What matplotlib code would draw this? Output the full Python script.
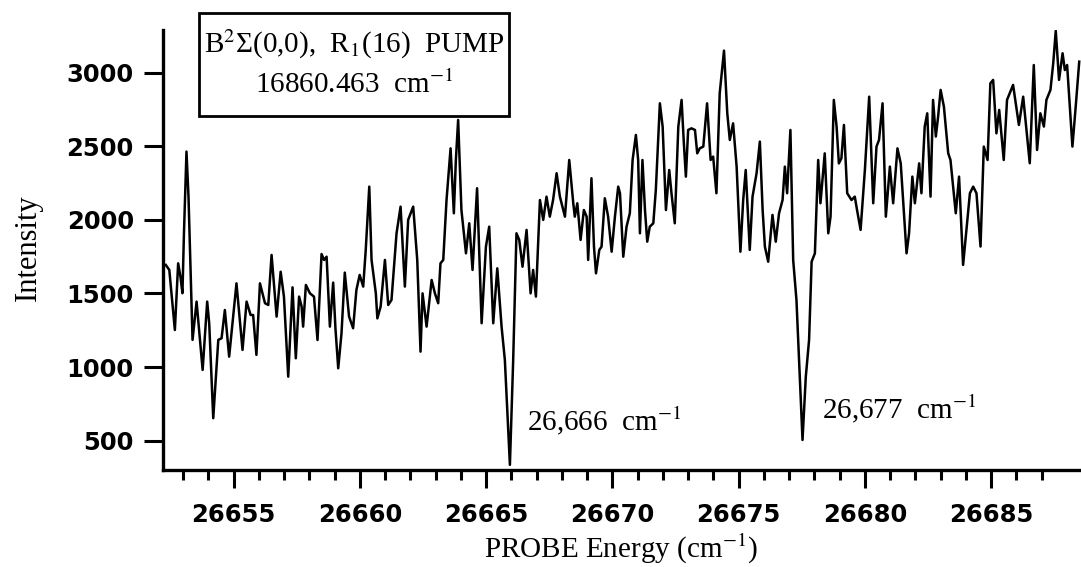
"""
Probe spectrum recorded with the B2Sigma(0,0) R1(16) pump line fixed.
Draws intensity vs probe energy with the two depletion dips labelled.
"""

import matplotlib
matplotlib.use('Agg')
import matplotlib.pyplot as plt
from matplotlib.patches import Rectangle


energy = [
    26652.31, 26652.45, 26652.67, 26652.80, 26652.89, 26652.97, 26653.03, 26653.13,
    26653.21, 26653.37, 26653.53, 26653.77, 26653.95, 26654.03, 26654.19, 26654.39,
    26654.52, 26654.65, 26654.82, 26655.11, 26655.35, 26655.51, 26655.67, 26655.77,
    26655.90, 26656.04, 26656.24, 26656.37, 26656.50, 26656.70, 26656.86, 26656.99,
    26657.16, 26657.33, 26657.46, 26657.59, 26657.69, 26657.75, 26657.86, 26658.02,
    26658.18, 26658.32, 26658.48, 26658.58, 26658.68, 26658.81, 26658.94, 26659.03,
    26659.14, 26659.27, 26659.40, 26659.57, 26659.73, 26659.86, 26659.99, 26660.13,
    26660.23, 26660.37, 26660.46, 26660.63, 26660.69, 26660.82, 26660.99, 26661.12,
    26661.25, 26661.45, 26661.61, 26661.78, 26661.91, 26662.11, 26662.27, 26662.40,
    26662.48, 26662.64, 26662.84, 26662.97, 26663.10, 26663.19, 26663.30, 26663.43,
    26663.59, 26663.72, 26663.80, 26663.89, 26664.02, 26664.20, 26664.33, 26664.46,
    26664.64, 26664.82, 26664.99, 26665.12, 26665.28, 26665.44, 26665.61, 26665.74,
    26665.94, 26666.07, 26666.20, 26666.31, 26666.44, 26666.60, 26666.76, 26666.86,
    26666.97, 26667.13, 26667.26, 26667.39, 26667.52, 26667.65, 26667.79, 26667.92,
    26668.12, 26668.29, 26668.45, 26668.51, 26668.61, 26668.74, 26668.87, 26668.98,
    26669.04, 26669.17, 26669.27, 26669.35, 26669.48, 26669.57, 26669.70, 26669.83,
    26669.97, 26670.10, 26670.23, 26670.30, 26670.43, 26670.56, 26670.69, 26670.80,
    26670.93, 26671.02, 26671.09, 26671.19, 26671.29, 26671.38, 26671.48, 26671.62,
    26671.72, 26671.88, 26671.99, 26672.12, 26672.25, 26672.34, 26672.47, 26672.61,
    26672.74, 26672.83, 26672.91, 26673.00, 26673.13, 26673.27, 26673.36, 26673.46,
    26673.60, 26673.75, 26673.89, 26673.99, 26674.12, 26674.25, 26674.42, 26674.55,
    26674.65, 26674.78, 26674.92, 26675.07, 26675.18, 26675.28, 26675.44, 26675.55,
    26675.71, 26675.84, 26675.95, 26676.04, 26676.17, 26676.34, 26676.47, 26676.60,
    26676.74, 26676.83, 26676.92, 26677.05, 26677.16, 26677.29, 26677.42, 26677.53,
    26677.66, 26677.79, 26677.89, 26678.02, 26678.15, 26678.24, 26678.41, 26678.55,
    26678.64, 26678.77, 26678.88, 26678.97, 26679.07, 26679.17, 26679.30, 26679.47,
    26679.60, 26679.69, 26679.83, 26680.00, 26680.17, 26680.33, 26680.46, 26680.56,
    26680.70, 26680.83, 26680.99, 26681.12, 26681.29, 26681.42, 26681.54, 26681.65,
    26681.75, 26681.88, 26681.98, 26682.15, 26682.24, 26682.37, 26682.47, 26682.60,
    26682.70, 26682.81, 26682.90, 26683.00, 26683.13, 26683.30, 26683.39, 26683.60,
    26683.73, 26683.89, 26684.16, 26684.29, 26684.42, 26684.58, 26684.71, 26684.86,
    26684.97, 26685.08, 26685.21, 26685.32, 26685.50, 26685.63, 26685.87, 26686.10,
    26686.27, 26686.53, 26686.69, 26686.82, 26686.95, 26687.09, 26687.19, 26687.35,
    26687.46, 26687.56, 26687.69, 26687.83, 26687.92, 26688.01, 26688.22, 26688.35,
    26688.49,
]

intensity = [
    1694, 1660, 1252, 1705, 1615, 1502, 1909, 2464,
    2158, 1185, 1445, 981, 1445, 1298, 653, 1185,
    1196, 1388, 1071, 1569, 1117, 1445, 1354, 1354,
    1083, 1569, 1434, 1422, 1762, 1343, 1648, 1479,
    935, 1542, 1060, 1479, 1411, 1275, 1558, 1501,
    1479, 1184, 1768, 1728, 1750, 1275, 1574, 1264,
    992, 1230, 1642, 1343, 1264, 1524, 1626, 1547,
    1796, 2226, 1728, 1501, 1331, 1411, 1728, 1422,
    1456, 1909, 2090, 1547, 2000, 2090, 1728, 1105,
    1501, 1275, 1592, 1501, 1434, 1705, 1728, 2135,
    2486, 2045, 2407, 2679, 2067, 1773, 1977, 1660,
    2215, 1298, 1818, 1954, 1298, 1671, 1275, 1049,
    336, 1049, 1909, 1864, 1682, 1932, 1501, 1660,
    1479, 2135, 2000, 2158, 2022, 2135, 2317, 2158,
    2022, 2407, 2113, 2022, 2113, 1864, 2067, 2022,
    1728, 2283, 1818, 1637, 1796, 1818, 2147, 2022,
    1784, 2022, 2226, 2181, 1750, 1954, 2045, 2407,
    2577, 2407, 1909, 2407, 2067, 1852, 1954, 1977,
    2203, 2792, 2633, 2067, 2339, 2181, 1977, 2633,
    2815, 2520, 2294, 2611, 2622, 2611, 2452, 2486,
    2498, 2792, 2407, 2430, 2181, 2860, 3150, 2724,
    2543, 2656, 2362, 1784, 2135, 2339, 1796, 2158,
    2317, 2532, 2067, 1818, 1716, 2034, 1852, 2045,
    2135, 2362, 2181, 2611, 1728, 1456, 935, 505,
    935, 1185, 1716, 1773, 2407, 2113, 2452, 1909,
    2022, 2815, 2633, 2384, 2418, 2645, 2181, 2135,
    2158, 2067, 1932, 2339, 2837, 2113, 2498, 2543,
    2792, 2022, 2362, 2113, 2486, 2384, 2067, 1773,
    1909, 2294, 2113, 2384, 2181, 2634, 2724, 2158,
    2815, 2566, 2701, 2883, 2769, 2453, 2407, 2045,
    2294, 1694, 2181, 2226, 2181, 1819, 2498, 2407,
    2928, 2951, 2588, 2747, 2407, 2815, 2917, 2645,
    2837, 2385, 3052, 2475, 2724, 2634, 2815, 2883,
    3064, 3285, 2951, 3132, 3018, 3052, 2498, 2769,
    3075,
]

x_ticks = [26655, 26660, 26665, 26670, 26675, 26680, 26685]
y_ticks = [500, 1000, 1500, 2000, 2500, 3000]

dip_labels = ['26,666  cm$^{-1}$', '26,677  cm$^{-1}$']
dip_label_pos = [(26666.6, 573), (26678.3, 654)]

pump_lines = ['B$^2$\u03a3(0,0),  R$_1$(16)  PUMP', '16860.463  cm$^{-1}$']

SERIF = 'Liberation Serif'


def plot_spectrum():
    plt.rcParams['mathtext.fontset'] = 'stix'
    fig = plt.figure(figsize=(10.81, 5.67), dpi=100)
    ax = fig.add_axes([163 / 1081, 97 / 567, 918 / 1081, 440 / 567])

    ax.plot(energy, intensity, color='black', linewidth=1.8, solid_joinstyle='round')

    ax.set_xlim(26652.2, 26688.56)
    ax.set_ylim(301, 3290)
    ax.set_xticks(x_ticks)
    ax.set_xticks(range(26653, 26688), minor=True)
    ax.set_yticks(y_ticks)

    for side in ['top', 'right']:
        ax.spines[side].set_visible(False)
    for side in ['left', 'bottom']:
        ax.spines[side].set_linewidth(2.4)

    ax.tick_params(axis='x', which='major', direction='out', length=13, width=2.2, pad=11)
    ax.tick_params(axis='x', which='minor', direction='out', length=7, width=2.2)
    ax.tick_params(axis='y', which='major', direction='out', length=14, width=2.2, pad=7)
    for lbl in ax.get_xticklabels() + ax.get_yticklabels():
        lbl.set_fontfamily('DejaVu Sans')
        lbl.set_fontweight('bold')
        lbl.set_fontsize(17.5)

    # axis titles, placed where the reference has them
    fig.text(621 / 1081, 1 - 558 / 567, 'PROBE Energy (cm$^{-1}$)', family=SERIF,
             fontsize=21, ha='center', va='baseline')
    fig.text(28 / 1081, 1 - 248 / 567, 'Intensity', family=SERIF, fontsize=22,
             rotation=90, ha='center', va='center')

    for txt, (xd, yd) in zip(dip_labels, dip_label_pos):
        ax.text(xd, yd, txt, family=SERIF, fontsize=21, ha='left', va='baseline')

    # pump line box
    box = Rectangle((199 / 1081, 1 - 116 / 567), 310 / 1081, 103 / 567,
                    transform=fig.transFigure, fill=False, edgecolor='black', linewidth=2)
    fig.patches.append(box)
    fig.text(354 / 1081, 1 - 53 / 567, pump_lines[0], family=SERIF, fontsize=21,
             ha='center', va='baseline')
    fig.text(354 / 1081, 1 - 93 / 567, pump_lines[1], family=SERIF, fontsize=21,
             ha='center', va='baseline')

    fig.savefig('out.png', dpi=100)


if __name__ == '__main__':
    plot_spectrum()
